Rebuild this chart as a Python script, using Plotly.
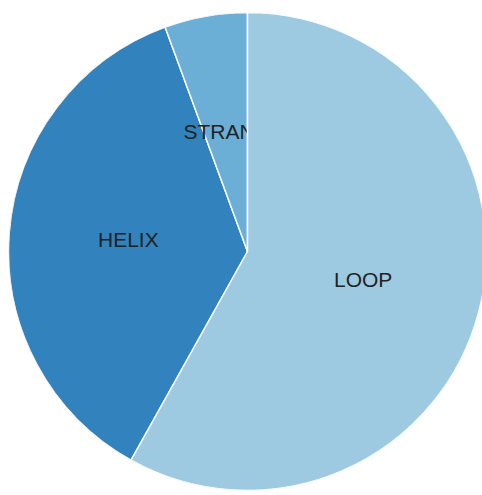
import plotly.graph_objects as go

# Secondary-structure composition (percent of residues)
labels = ["LOOP", "HELIX", "STRAND"]
values = [58.1, 36.3, 5.6]
colors = ["#9ecae1", "#3182bd", "#6baed6"]

total = sum(values)
extents, mids = [], []
start = 0.0
for v in values:
    ext = v / total * 360.0
    extents.append(ext)
    mids.append(start + ext / 2.0)
    start += ext

W, H = 490, 495
cx, cy, R = 247.5, 251.5, 239.0
dom_x = [(cx - R) / W, (cx + R) / W]
dom_y = [(H - cy - R) / H, (H - cy + R) / H]

font = dict(family="Liberation Sans, Arial, sans-serif", size=21, color="#222222")

fig = go.Figure()

# The first (largest) slice lives on its own polar layer drawn on top,
# so it overlaps the labels of the smaller slices.
layers = {"polar": [1, 2], "polar2": [0]}
for sub, idx in layers.items():
    fig.add_trace(go.Barpolar(
        r=[1] * len(idx),
        theta=[mids[i] for i in idx],
        width=[extents[i] for i in idx],
        marker=dict(color=[colors[i] for i in idx],
                    line=dict(color="white", width=1.5)),
        subplot=sub,
        hoverinfo="skip",
        showlegend=False,
    ))
    fig.add_trace(go.Scatterpolar(
        r=[0.5] * len(idx),
        theta=[mids[i] for i in idx],
        mode="text",
        text=[labels[i] for i in idx],
        textposition="middle center",
        textfont=font,
        subplot=sub,
        hoverinfo="skip",
        showlegend=False,
    ))

polar_common = dict(
    bgcolor="rgba(0,0,0,0)",
    hole=0,
    radialaxis=dict(range=[0, 1], visible=False, showgrid=False),
    angularaxis=dict(rotation=90, direction="clockwise", visible=False,
                     showgrid=False, thetaunit="degrees"),
    domain=dict(x=dom_x, y=dom_y),
)

fig.update_layout(
    width=W, height=H,
    margin=dict(l=0, r=0, t=0, b=0),
    paper_bgcolor="white",
    plot_bgcolor="white",
    polar=polar_common,
    polar2=polar_common,
    barmode="overlay",
    showlegend=False,
)

fig.write_html(
    "out.html",
    config={"displayModeBar": False},
    post_script="document.documentElement.style.overflow='hidden';"
                "document.body.style.overflow='hidden';",
)
